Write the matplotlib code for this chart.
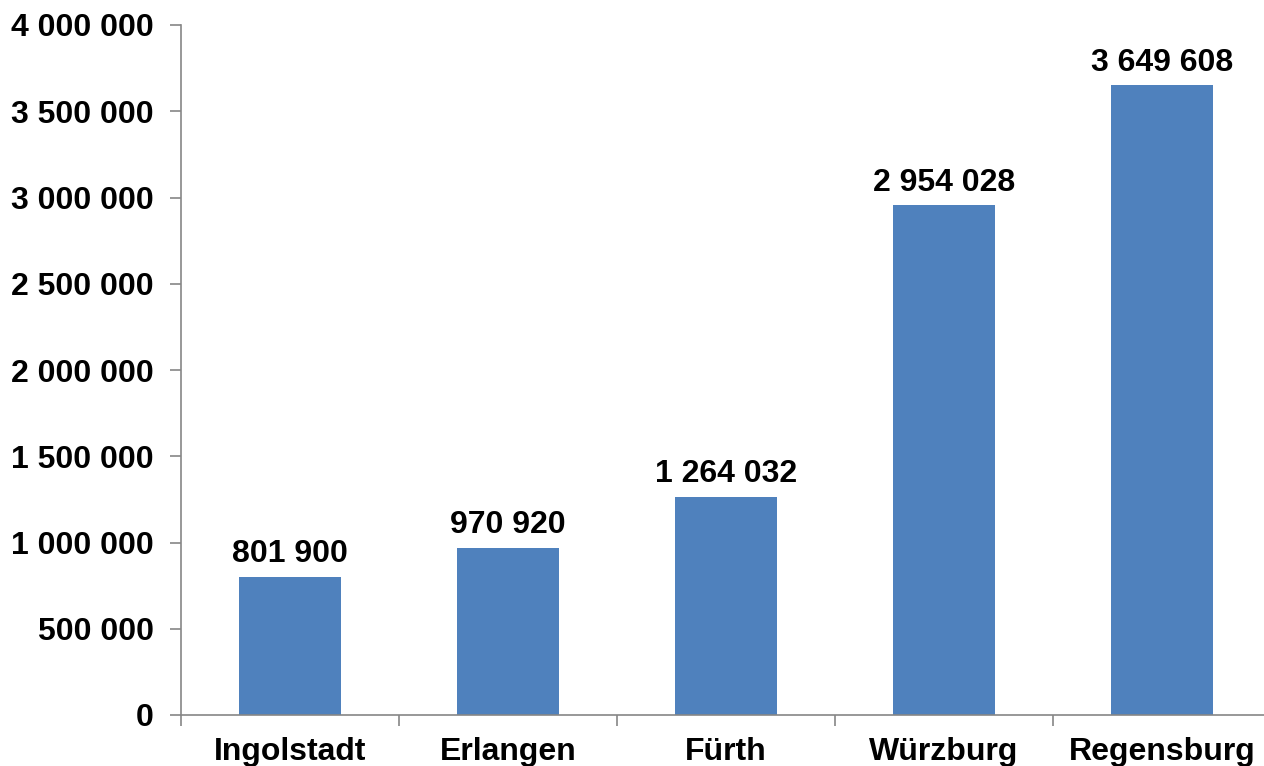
import matplotlib.pyplot as plt
from matplotlib.ticker import FuncFormatter, FixedLocator

cities = ["Ingolstadt", "Erlangen", "Fürth", "Würzburg", "Regensburg"]
values = [801900, 970920, 1264032, 2954028, 3649608]
y_ticks = [0, 500000, 1000000, 1500000, 2000000, 2500000, 3000000, 3500000, 4000000]


def fmt(v, pos=None):
    return f"{int(v):,}".replace(",", " ")


plt.rcParams['font.family'] = ['Liberation Sans', 'DejaVu Sans']
plt.rcParams['font.weight'] = 'bold'

fig = plt.figure(figsize=(12.64, 7.66), dpi=100)
ax = fig.add_axes([181 / 1264, 51 / 766, 1090 / 1264, 690 / 766])

x = range(len(cities))
bars = ax.bar(x, values, width=0.47, color="#4F81BD", zorder=2)

for xi, v in zip(x, values):
    ax.text(xi, v + 45000, fmt(v), ha="center", va="bottom",
            fontsize=23, fontweight="bold")

ax.set_xlim(-0.5, len(cities) - 0.5)
ax.set_ylim(0, 4000000)
ax.set_yticks(y_ticks)
ax.yaxis.set_major_formatter(FuncFormatter(fmt))

ax.set_xticks(list(x))
ax.set_xticklabels(cities)
ax.xaxis.set_minor_locator(FixedLocator([i - 0.5 for i in range(len(cities) + 1)]))
ax.tick_params(axis="x", which="major", length=0, pad=16, labelsize=23)
ax.tick_params(axis="x", which="minor", length=8, color="#868686", width=1.2)
ax.tick_params(axis="y", length=8, color="#868686", width=1.2, pad=11.5, labelsize=23)

for s in ["top", "right"]:
    ax.spines[s].set_visible(False)
for s in ["left", "bottom"]:
    ax.spines[s].set_color("#868686")
    ax.spines[s].set_linewidth(1.2)

for lbl in ax.get_xticklabels() + ax.get_yticklabels():
    lbl.set_fontweight("bold")

fig.savefig("out.png", dpi=100)
